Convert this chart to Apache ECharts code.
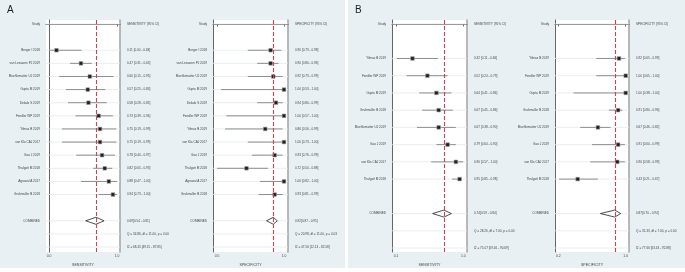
<!DOCTYPE html>
<html>
<head>
<meta charset="utf-8">
<script src="https://cdn.jsdelivr.net/npm/echarts@6/dist/echarts.min.js"></script>
<style>
    html, body { margin: 0; padding: 0; background: #fff; }
    #chart { width: 685px; height: 272px; }
</style>
</head>
<body>
<div id="chart"></div>
<script>
// panel A: 12 studies
var aStudies = ['Berger I 2018', 'van Leeuwen PJ 2019', 'Muehlematter UJ 2019', 'Gupta M 2019', 'Dekalo S 2019',
    'Fendler WP 2019', 'Yilmaz B 2019', 'van Kla CAJ 2017', 'Gao J 2019', 'Thalgott M 2018', 'Agrawal A 2017', 'Grubmuller B 2018'];
var aSensEst = [0.11, 0.47, 0.60, 0.57, 0.58, 0.73, 0.75, 0.75, 0.78, 0.82, 0.88, 0.94];
var aSensLo  = [0.00, 0.31, 0.15, 0.25, 0.28, 0.39, 0.19, 0.19, 0.40, 0.65, 0.47, 0.73];
var aSensHi  = [0.48, 0.63, 0.95, 0.83, 0.85, 0.94, 0.99, 0.99, 0.97, 0.93, 1.00, 1.00];
var aSpecEst = [0.90, 0.90, 0.92, 1.00, 0.94, 1.00, 0.86, 1.00, 0.93, 0.72, 1.00, 0.93];
var aSpecLo  = [0.73, 0.80, 0.73, 0.53, 0.80, 0.57, 0.56, 0.73, 0.76, 0.50, 0.82, 0.81];
var aSpecHi  = [0.98, 0.96, 0.99, 1.00, 0.99, 1.00, 0.99, 1.00, 0.99, 0.88, 1.00, 0.99];
var aSensComb = [0.69, 0.54, 0.81];
var aSpecComb = [0.92, 0.87, 0.95];
var aSensStats = ['Q = 34.86, df = 11.00, p = 0.00', 'I2 = 68.45 [49.15 - 87.85]'];
var aSpecStats = ['Q = 20.98, df = 11.00, p = 0.03', 'I2 = 47.56 [12.13 - 82.58]'];

// panel B: 8 studies
var bStudies = ['Yilmaz B 2019', 'Fendler WP 2019', 'Gupta M 2019', 'Grubmuller B 2018', 'Muehlematter UJ 2019',
    'Gao J 2019', 'van Kla CAJ 2017', 'Thalgott M 2018'];
var bSensEst = [0.32, 0.52, 0.64, 0.67, 0.67, 0.79, 0.90, 0.95];
var bSensLo  = [0.11, 0.24, 0.41, 0.45, 0.38, 0.64, 0.57, 0.85];
var bSensHi  = [0.66, 0.79, 0.84, 0.86, 0.90, 0.90, 1.00, 0.98];
var bSpecEst = [0.92, 1.00, 1.00, 0.91, 0.67, 0.91, 0.90, 0.43];
var bSpecLo  = [0.65, 0.65, 0.38, 0.80, 0.46, 0.60, 0.58, 0.21];
var bSpecHi  = [0.99, 1.00, 1.00, 0.96, 0.82, 0.99, 0.99, 0.67];
var bSensComb = [0.74, 0.59, 0.84];
var bSpecComb = [0.87, 0.70, 0.94];
var bSensStats = ['Q = 28.26, df = 7.00, p = 0.00', 'I2 = 75.07 [59.46 - 90.69]'];
var bSpecStats = ['Q = 31.33, df = 7.00, p = 0.00', 'I2 = 77.66 [63.43 - 92.88]'];

// axis ticks for the four plots
var aSensTicks = [0.0, 1.0];
var aSpecTicks = [0.5, 1.0];
var bSensTicks = [0.1, 1.0];
var bSpecTicks = [0.2, 1.0];

var FONT = 'Liberation Sans';
var TXT = '#444';
var ROWLINE = '#e2eaee';

function fmt(v) { return v.toFixed(2); }

var grids = [], xAxes = [], yAxes = [], series = [];

function addPlot(box, xr, yr, ticks, axisName, header, names, est, lo, hi, comb, stats) {
    var g = grids.length;
    grids.push({ left: box[0], top: 20, width: box[1], height: 232, show: true,
        backgroundColor: '#fff', borderWidth: 0 });
    xAxes.push({
        type: 'value', gridIndex: g, min: xr[0], max: xr[1],
        axisLine: { show: true, lineStyle: { color: '#444', width: 0.8 } },
        axisTick: { show: true, length: 2.5, customValues: ticks, lineStyle: { color: '#444', width: 0.8 } },
        axisLabel: { customValues: ticks, fontSize: 3.4, margin: 3, color: TXT, fontFamily: FONT,
            formatter: function (v) { return v.toFixed(1); } },
        splitLine: { show: false },
        name: axisName, nameLocation: 'middle', nameGap: 8,
        nameTextStyle: { fontSize: 3.6, color: TXT, fontFamily: FONT }
    });
    yAxes.push({
        type: 'value', gridIndex: g, inverse: true, min: yr[0], max: yr[1],
        axisLine: { show: true, lineStyle: { color: '#555', width: 0.9 } },
        axisTick: { show: false }, axisLabel: { show: false }, splitLine: { show: false }
    });
    yAxes.push({
        type: 'value', gridIndex: g, inverse: true, min: yr[0], max: yr[1], position: 'right',
        axisLine: { show: true, lineStyle: { color: '#a8a8a8', width: 1.6 } },
        axisTick: { show: false }, axisLabel: { show: false }, splitLine: { show: false }
    });
    var yi = yAxes.length - 2;
    var n = names.length;

    function txt(x, y, s, align) {
        return { type: 'text', x: x, y: y, style: { text: s, fill: TXT, fontSize: 3.1,
            fontFamily: FONT, align: align, verticalAlign: 'middle' } };
    }
    function rowLine(cs, y) {
        return { type: 'line', shape: { x1: cs.x, y1: y, x2: cs.x + cs.width, y2: y },
            style: { stroke: ROWLINE, lineWidth: 0.8 } };
    }

    // study rows
    series.push({
        type: 'custom', xAxisIndex: g, yAxisIndex: yi, clip: false, silent: true,
        data: names.map(function (nm, i) { return [est[i], lo[i], hi[i], i + 2]; }),
        renderItem: function (params, api) {
            var cs = params.coordSys;
            var s = api.value(3);
            var p = api.coord([api.value(0), s]);
            var l = api.coord([api.value(1), s]);
            var h = api.coord([api.value(2), s]);
            var i = params.dataIndex;
            return { type: 'group', children: [
                rowLine(cs, p[1]),
                { type: 'line', shape: { x1: l[0], y1: p[1], x2: h[0], y2: p[1] },
                    style: { stroke: '#8d8d8d', lineWidth: 1 } },
                { type: 'rect', shape: { x: p[0] - 1.8, y: p[1] - 1.8, width: 3.6, height: 3.6 },
                    style: { fill: '#1e1e1e', stroke: '#9a9a9a', lineWidth: 0.6 } },
                txt(cs.x - 6, p[1], names[i], 'right'),
                txt(cs.x + cs.width + 7, p[1], fmt(est[i]) + ' [' + fmt(lo[i]) + ' - ' + fmt(hi[i]) + ']', 'left')
            ] };
        }
    });

    // pooled estimate: diamond + dashed line
    series.push({
        type: 'custom', xAxisIndex: g, yAxisIndex: yi, clip: false, silent: true, z: 3,
        data: [[comb[0], comb[1], comb[2], n + 3]],
        renderItem: function (params, api) {
            var cs = params.coordSys;
            var s = api.value(3);
            var p = api.coord([api.value(0), s]);
            var l = api.coord([api.value(1), s]);
            var h = api.coord([api.value(2), s]);
            return { type: 'group', children: [
                rowLine(cs, p[1]),
                { type: 'polygon', shape: { points: [[l[0], p[1]], [p[0], p[1] - 3.5], [h[0], p[1]], [p[0], p[1] + 3.5]] },
                    style: { fill: '#fff', stroke: '#222', lineWidth: 0.8 } },
                txt(cs.x - 6, p[1], 'COMBINED', 'right'),
                txt(cs.x + cs.width + 7, p[1], fmt(comb[0]) + '[' + fmt(comb[1]) + ' - ' + fmt(comb[2]) + ']', 'left')
            ] };
        },
        markLine: {
            silent: true, symbol: 'none', label: { show: false },
            lineStyle: { color: '#d5404f', type: [4, 2], width: 1.1 },
            data: [{ xAxis: comb[0] }]
        }
    });

    // header and heterogeneity rows
    var infoSlots = [0, n + 4, n + 5];
    var infoLeft = ['Study', '', ''];
    var infoRight = [header, stats[0], stats[1]];
    series.push({
        type: 'custom', xAxisIndex: g, yAxisIndex: yi, clip: false, silent: true, z: 1,
        data: infoSlots.map(function (s) { return [xr[0], s]; }),
        renderItem: function (params, api) {
            var cs = params.coordSys;
            var y = api.coord([api.value(0), api.value(1)])[1];
            var i = params.dataIndex;
            var kids = [rowLine(cs, y), txt(cs.x + cs.width + 7, y, infoRight[i], 'left')];
            if (infoLeft[i]) kids.push(txt(cs.x - 6, y, infoLeft[i], 'right'));
            return { type: 'group', children: kids };
        }
    });
}

addPlot([46, 74], [-0.044, 1.044], [-0.305, 17.38], aSensTicks, 'SENSITIVITY', 'SENSITIVITY (95% CI)',
    aStudies, aSensEst, aSensLo, aSensHi, aSensComb, aSensStats);
addPlot([213, 75], [0.470, 1.030], [-0.305, 17.38], aSpecTicks, 'SPECIFICITY', 'SPECIFICITY (95% CI)',
    aStudies, aSpecEst, aSpecLo, aSpecHi, aSpecComb, aSpecStats);
addPlot([392, 75], [0.0465, 1.049], [-0.232, 13.23], bSensTicks, 'SENSITIVITY', 'SENSITIVITY (95% CI)',
    bStudies, bSensEst, bSensLo, bSensHi, bSensComb, bSensStats);
addPlot([555, 74], [0.161, 1.039], [-0.232, 13.23], bSpecTicks, 'SPECIFICITY', 'SPECIFICITY (95% CI)',
    bStudies, bSpecEst, bSpecLo, bSpecHi, bSpecComb, bSpecStats);

var myChart = echarts.init(document.getElementById('chart'), null, { renderer: 'canvas' });
myChart.setOption({
    animation: false,
    backgroundColor: '#fff',
    graphic: [
        { type: 'rect', z: -10, shape: { x: 0, y: 0, width: 345, height: 268 }, style: { fill: '#e9f0f3' } },
        { type: 'rect', z: -10, shape: { x: 348, y: 0, width: 337, height: 268 }, style: { fill: '#e9f0f3' } },
        { type: 'text', left: 7, top: 5, style: { text: 'A', fontSize: 10, fill: '#222', fontFamily: FONT } },
        { type: 'text', left: 355, top: 5, style: { text: 'B', fontSize: 10, fill: '#222', fontFamily: FONT } }
    ],
    grid: grids,
    xAxis: xAxes,
    yAxis: yAxes,
    series: series
});
</script>
</body>
</html>
